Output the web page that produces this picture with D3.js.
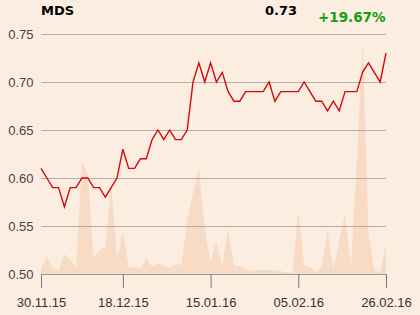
<!DOCTYPE html>
<html>
<head>
<meta charset="utf-8">
<script src="https://cdn.jsdelivr.net/npm/d3@7"></script>
<style>
  body { margin: 0; background: #fcede1; }
  svg { font-family: "DejaVu Sans", sans-serif; display: block; }
</style>
</head>
<body>
<div id="chart"></div>
<script>
// Trading days shown on the x axis
const dates = [
    "30.11.15", "01.12.15", "02.12.15", "03.12.15", "04.12.15",
    "07.12.15", "08.12.15", "09.12.15", "10.12.15", "11.12.15",
    "14.12.15", "15.12.15", "16.12.15", "17.12.15", "18.12.15",
    "21.12.15", "22.12.15", "23.12.15", "28.12.15", "29.12.15",
    "30.12.15", "05.01.16", "06.01.16", "07.01.16", "08.01.16",
    "11.01.16", "12.01.16", "13.01.16", "14.01.16", "15.01.16",
    "18.01.16", "19.01.16", "20.01.16", "21.01.16", "22.01.16",
    "25.01.16", "26.01.16", "27.01.16", "28.01.16", "29.01.16",
    "01.02.16", "02.02.16", "03.02.16", "04.02.16", "05.02.16",
    "08.02.16", "09.02.16", "10.02.16", "11.02.16", "12.02.16",
    "15.02.16", "16.02.16", "17.02.16", "18.02.16", "19.02.16",
    "22.02.16", "23.02.16", "24.02.16", "25.02.16", "26.02.16"
];

// Closing price
const prices = [
    0.61, 0.60, 0.59, 0.59, 0.57, 0.59, 0.59, 0.60, 0.60, 0.59,
    0.59, 0.58, 0.59, 0.60, 0.63, 0.61, 0.61, 0.62, 0.62, 0.64,
    0.65, 0.64, 0.65, 0.64, 0.64, 0.65, 0.70, 0.72, 0.70, 0.72,
    0.70, 0.71, 0.69, 0.68, 0.68, 0.69, 0.69, 0.69, 0.69, 0.70,
    0.68, 0.69, 0.69, 0.69, 0.69, 0.70, 0.69, 0.68, 0.68, 0.67,
    0.68, 0.67, 0.69, 0.69, 0.69, 0.71, 0.72, 0.71, 0.70, 0.73
];

// Traded volume (relative units)
const volumes = [
    5, 17, 6, 4, 20, 14, 7, 112, 100, 17,
    24, 27, 91, 15, 43, 6, 7, 5, 16, 7,
    11, 8, 6, 10, 9, 54, 81, 107, 45, 12,
    33, 7, 46, 8, 8, 5, 3, 4, 4, 4,
    4, 3, 1.5, 1, 64, 9, 7, 2, 7, 45,
    5, 33, 60, 8, 110, 236, 41, 4, 1.5, 31
];

const yTicks = [0.50, 0.55, 0.60, 0.65, 0.70, 0.75];
const xTicks = ["30.11.15", "18.12.15", "15.01.16", "05.02.16", "26.02.16"];

const ticker = "MDS";
const lastPrice = "0.73";
const change = "+19.67%";

const width = 420, height = 315;
const margin = {top: 34, bottom: 41, left: 41, right: 34};

const svg = d3.select('#chart')
    .append('svg')
    .attr('width', width)
    .attr('height', height)
    .style('background', '#fcede1');

const xScale = d3.scalePoint()
    .domain(dates)
    .range([margin.left, width - margin.right]);

const yScale = d3.scaleLinear()
    .domain([0.50, 0.75])
    .range([height - margin.bottom, margin.top]);

const volScale = d3.scaleLinear()
    .domain([0, 250])
    .range([height - margin.bottom, height - margin.bottom - 250]);

// Volume area in the background
const area = d3.area()
    .x((d, i) => xScale(dates[i]))
    .y0(volScale(0))
    .y1(d => volScale(d));

svg.append('path')
    .datum(volumes)
    .attr('d', area)
    .attr('fill', '#f8dbc5');

// Grid lines + y labels
const yAxis = svg.append('g')
    .attr('transform', `translate(${margin.left},0)`)
    .call(d3.axisLeft(yScale)
        .tickValues(yTicks)
        .tickFormat(d3.format('.2f'))
        .tickSize(-(width - margin.left - margin.right))
        .tickPadding(7.5));

yAxis.select('.domain').remove();
yAxis.selectAll('line').attr('stroke', '#b3ada8');
yAxis.selectAll('text')
    .attr('fill', '#444')
    .style('font-size', '13px');

// x axis
const xAxis = svg.append('g')
    .attr('transform', `translate(0,${height - margin.bottom})`)
    .call(d3.axisBottom(xScale)
        .tickValues(xTicks)
        .tickSize(14)
        .tickPadding(10)
        .tickSizeOuter(0));

xAxis.select('.domain').attr('stroke', '#999');
xAxis.selectAll('line').attr('stroke', '#777');
xAxis.selectAll('text')
    .attr('fill', '#333')
    .style('font-size', '13px');

// Price line
const line = d3.line()
    .x((d, i) => xScale(dates[i]))
    .y(d => yScale(d));

svg.append('path')
    .datum(prices)
    .attr('d', line)
    .attr('fill', 'none')
    .attr('stroke', '#d7080c')
    .attr('stroke-width', 1.4)
    .attr('stroke-linejoin', 'miter');

// Header
svg.append('text')
    .attr('x', 41)
    .attr('y', 15)
    .text(ticker)
    .style('font-size', '13px')
    .style('font-weight', 'bold')
    .attr('fill', '#000');

svg.append('text')
    .attr('x', 297)
    .attr('y', 15)
    .text(lastPrice)
    .style('font-size', '13px')
    .style('font-weight', 'bold')
    .style('text-anchor', 'end')
    .attr('fill', '#000');

svg.append('text')
    .attr('x', 318)
    .attr('y', 21.5)
    .text(change)
    .style('font-size', '13.5px')
    .style('font-weight', 'bold')
    .attr('fill', '#12a012');
</script>
</body>
</html>
